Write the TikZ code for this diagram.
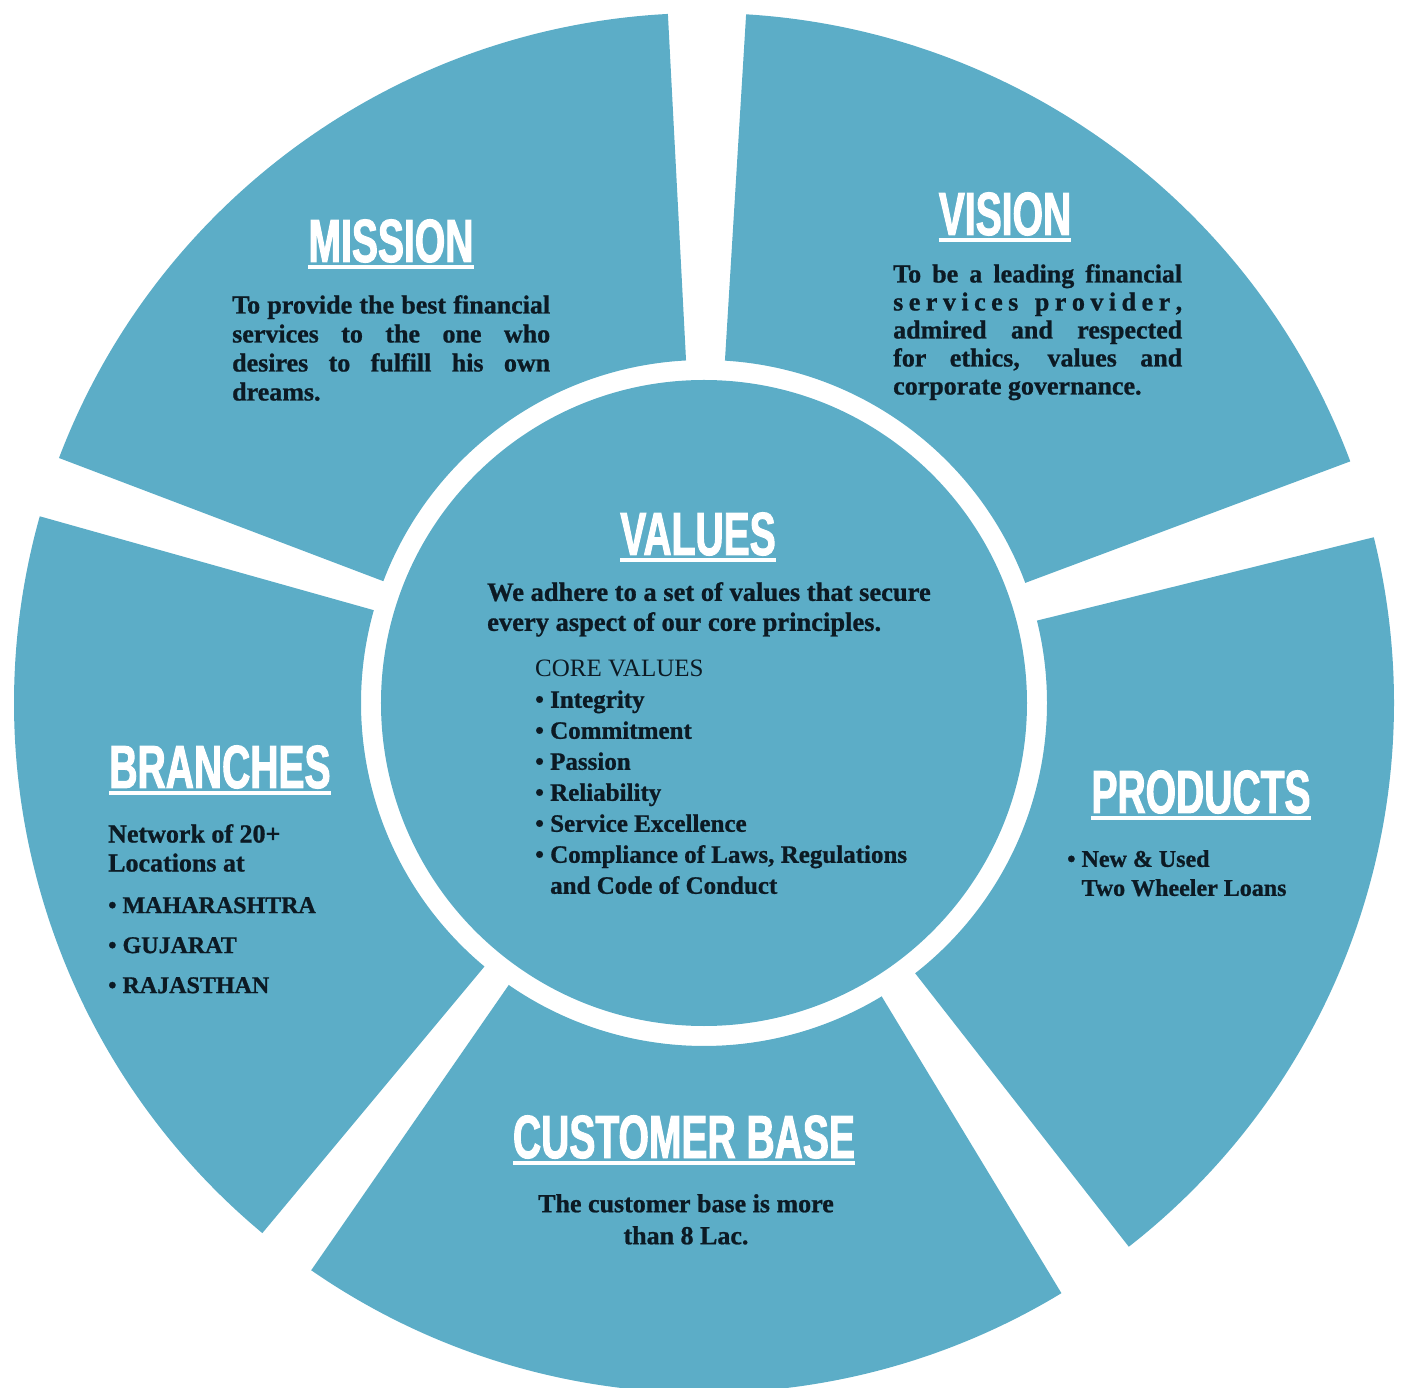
\documentclass[tikz,border=0pt]{standalone}
\usepackage{fontspec}
\setmainfont{Liberation Serif}[BoldFeatures={FakeBold=0.9}]
\newfontfamily\headfont[FakeStretch=0.64,BoldFeatures={FakeBold=1.6}]{Liberation Sans}
\definecolor{wheelblue}{HTML}{5CADC7}
\definecolor{inkdark}{HTML}{0C1A24}
\begin{document}
\begin{tikzpicture}[x=1pt,y=1pt,
  head/.style={font=\headfont\bfseries\fontsize{61}{61}\selectfont, text=white, inner sep=0pt, anchor=base},
  body/.style={font=\bfseries\fontsize{26}{29}\selectfont, text=inkdark, inner sep=0pt, anchor=north west, align=left},
  uline/.style={draw=white, line width=3.5pt}]
\useasboundingbox (-704,-685) rectangle (698,703);
% outer ring of five sectors
\foreach \a/\b in {20.5/86.5,93/159.2,164.3/230.2,235.3/301.2,308/373.9}
  \fill[wheelblue] (\a:343) -- (\a:690) arc[start angle=\a, end angle=\b, radius=690] -- (\b:343) arc[start angle=\b, end angle=\a, radius=343] -- cycle;
% centre disc
\fill[wheelblue] (0,0) circle[radius=323];
% headings
\node[head] (mission) at (-313,441) {MISSION};
\node[head] (vision) at (301,468) {VISION};
\node[head] (values) at (-6,148) {VALUES};
\node[head] (branches) at (-484,-85) {BRANCHES};
\node[head] (products) at (497,-110) {PRODUCTS};
\node[head] (customer) at (-20,-455) {CUSTOMER BASE};
\foreach \n in {mission,vision,values,branches,products,customer}
  \draw[uline] ([yshift=-5pt]\n.base west) -- ([yshift=-5pt]\n.base east);
% texts
\node[body, text width=318pt, align=justify] (missiontxt) at (-472,408) {To provide the best financial\linebreak services to the one who\linebreak desires to fulfill his own\linebreak dreams.};
\node[body, text width=289pt, align=justify, font=\bfseries\fontsize{26}{28}\selectfont] (visiontxt) at (189,439) {To be a leading financial\linebreak s e r v i c e s \ \ p r o v i d e r ,\linebreak admired and respected\linebreak for ethics, values and\linebreak corporate governance.};
\node[body, font=\bfseries\fontsize{26.5}{30}\selectfont] (valuestxt) at (-217,121) {We adhere to a set of values that secure\\every aspect of our core principles.};
\node[body, font=\bfseries\fontsize{25}{31}\selectfont] (corelist) at (-169,43) {{\mdseries CORE VALUES}\\• Integrity\\• Commitment\\• Passion\\• Reliability\\• Service Excellence\\• Compliance of Laws, Regulations\\\phantom{• }and Code of Conduct};
\node[body] (branchtxt) at (-596,-121) {Network of 20+\\Locations at};
\node[body, font=\bfseries\fontsize{24}{40}\selectfont] (states) at (-596,-194) {• MAHARASHTRA\\• GUJARAT\\• RAJASTHAN};
\node[body, font=\bfseries\fontsize{24}{29}\selectfont] (productstxt) at (363,-147) {• New \& Used\\\phantom{• }Two Wheeler Loans};
\node[body, anchor=north, align=center, font=\bfseries\fontsize{26}{32}\selectfont] (customertxt) at (-18,-491) {The customer base is more\\than 8 Lac.};
\end{tikzpicture}
\end{document}
